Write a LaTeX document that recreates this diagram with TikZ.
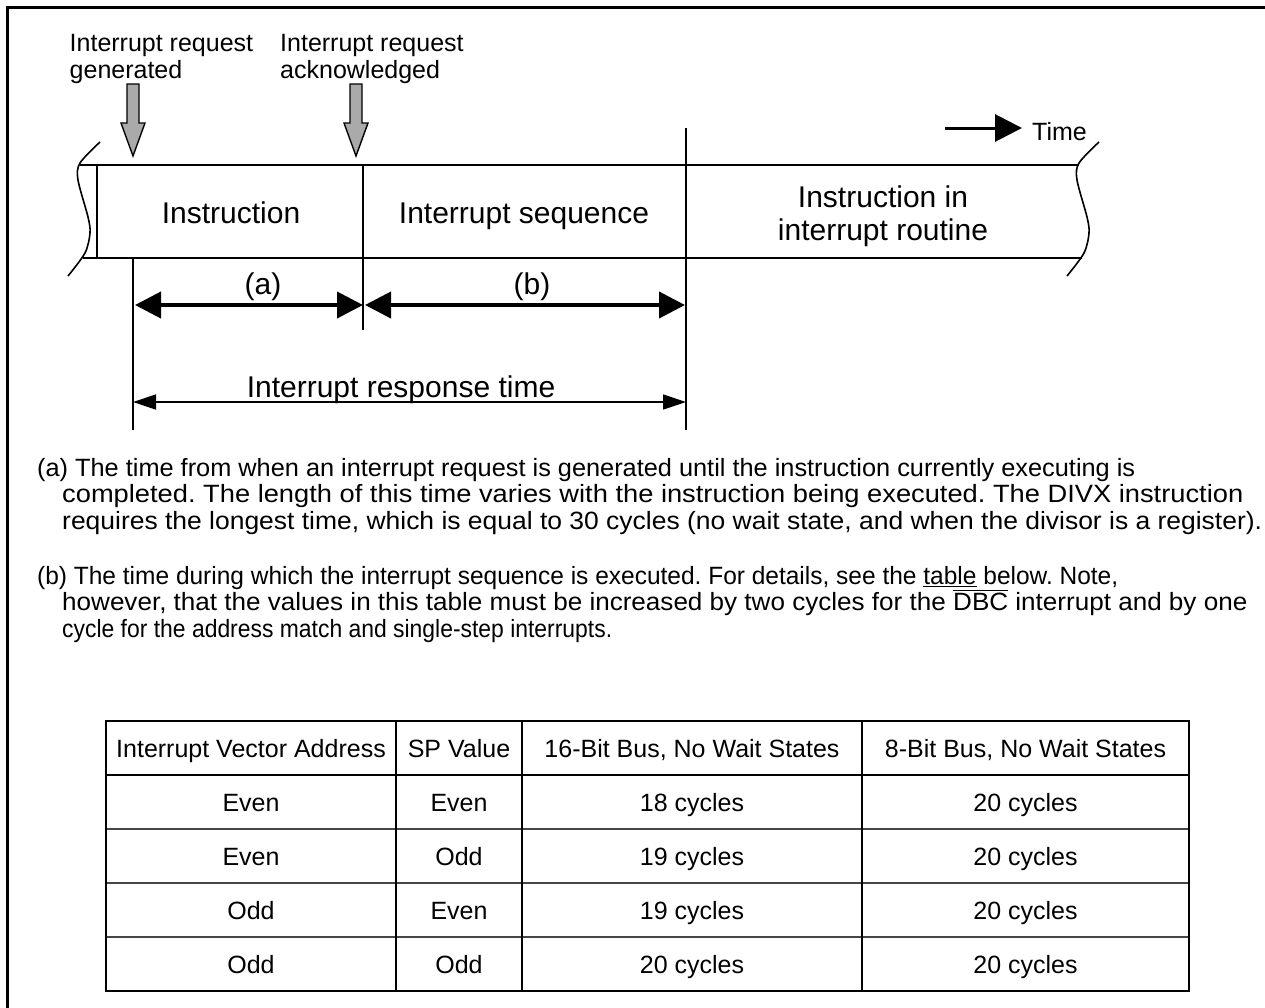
\documentclass[tikz,border=0pt]{standalone}
\usepackage{fontspec}
\setmainfont{Liberation Sans}
\usetikzlibrary{arrows.meta}
\frenchspacing

% rules for the underlined / overlined words in the notes
\newcommand{\undl}[1]{\vtop{\hbox{#1}\kern1.6pt\hrule height 1.3pt}}
\newcommand{\ovrl}[1]{\vbox{\hrule height 1.3pt\kern1.8pt\hbox{#1}}}
% one set line of the notes, brought to a given width
\newcommand{\noteline}[2]{\resizebox{#1pt}{\height}{#2}}

\definecolor{markgray}{RGB}{170,170,170}
\definecolor{rowline}{RGB}{70,70,70}

\tikzset{
  small/.style={font=\fontsize{25}{26.7}\selectfont, inner sep=0pt},
  big/.style={font=\fontsize{30}{33}\selectfont, inner sep=0pt},
  noteline/.style={small, anchor=base west},
  bandline/.style={line width=2.6pt},
  thinline/.style={line width=1.5pt},
  breakline/.style={line width=1.6pt},
  marker/.style={fill=markgray, draw=black, line width=1.4pt, line join=miter},
  spanarrow/.style={line width=4pt, {Triangle[length=26pt,width=26pt]}-{Triangle[length=26pt,width=26pt]}},
  totalarrow/.style={line width=1.5pt, {Triangle[length=23pt,width=15pt]}-{Triangle[length=23pt,width=15pt]}},
  tabouter/.style={line width=2.6pt},
  tabrow/.style={line width=1.5pt, draw=rowline},
  cell/.style={small, anchor=base},
}

\begin{document}
\begin{tikzpicture}[x=1pt,y=-1pt]
\useasboundingbox (0,0) rectangle (1265,1007);

% page frame (left and top edges)
\draw[line width=3pt, line join=miter] (7,1010) -- (7,7) -- (1268,7);

% ---------- event labels and their marker arrows ----------
\node[small, align=left, anchor=north west] (gen) at (69.5,34)
  {Interrupt request\\generated};
\node[small, align=left, anchor=north west] (ack) at (280,34)
  {Interrupt request\\acknowledged};

\coordinate (g1) at (133,84);
\coordinate (g2) at (356,84);
\foreach \g in {g1,g2}{
  \draw[marker] ([xshift=-6pt]\g) -- ([xshift=6pt]\g) -- ([xshift=6pt,yshift=-39pt]\g)
    -- ([xshift=12pt,yshift=-39pt]\g) -- ([yshift=-72pt]\g)
    -- ([xshift=-12pt,yshift=-39pt]\g) -- ([xshift=-6pt,yshift=-39pt]\g) -- cycle;
}

% ---------- time direction ----------
\node[small, anchor=base west] (time) at (1032,140) {Time};
\coordinate (timeS) at (945,128);
\coordinate (timeE) at (1022,128);
\draw[line width=3pt, -{Triangle[length=27pt,width=27pt]}] (timeS) -- (timeE);

% ---------- the time band ----------
\draw[bandline] (80,165) -- (1079,165);
\draw[bandline] (83,258) -- (1082,258);
% broken ends
\draw[breakline] plot[smooth] coordinates {(100,142) (80,163) (78,180) (88,217) (90,233) (85,253) (68,276)};
\draw[breakline] plot[smooth] coordinates {(1099,142) (1079,163) (1077,180) (1087,217) (1089,233) (1084,253) (1067,276)};
% segment boundaries
\draw[line width=2pt] (97,165) -- (97,258);
\coordinate (d1t) at (363,165);
\coordinate (d1b) at (363,330);
\coordinate (d2t) at (686,128);
\coordinate (d2b) at (686,430);
\coordinate (d0t) at (133,258);
\coordinate (d0b) at (133,430);
\draw[thinline] (d1t) -- (d1b);
\draw[thinline] (d2t) -- (d2b);
\draw[thinline] (d0t) -- (d0b);

\node[big, anchor=base] (instr) at (231,223) {Instruction};
\node[big, anchor=base] (seq) at (524,223) {Interrupt sequence};
\node[big, align=center, anchor=north] (routine) at (883,185.5)
  {Instruction in\\interrupt routine};

% ---------- spans ----------
\coordinate (aL) at (135,305);
\coordinate (aR) at (363,305);
\coordinate (bL) at (365,305);
\coordinate (bR) at (685,305);
\draw[spanarrow] (aL) -- (aR);
\draw[spanarrow] (bL) -- (bR);
\node[big, anchor=base] (alab) at (263,294) {(a)};
\node[big, anchor=base] (blab) at (532,294) {(b)};

\coordinate (rL) at (133,402);
\coordinate (rR) at (686,402);
\draw[totalarrow] (rL) -- (rR);
\node[big, anchor=base] (resp) at (401,397) {Interrupt response time};

% ---------- notes ----------
\node[noteline] (na1) at (37,476)
  {\noteline{1098}{(a) The time from when an interrupt request is generated until the instruction currently executing is}};
\node[noteline] (na2) at (62,502.7)
  {\noteline{1181}{completed. The length of this time varies with the instruction being executed. The DIVX instruction}};
\node[noteline] (na3) at (62,529.4)
  {\noteline{1200}{requires the longest time, which is equal to 30 cycles (no wait state, and when the divisor is a register).}};

\node[noteline] (nb1) at (37,584)
  {\noteline{1081}{(b) The time during which the interrupt sequence is executed. For details, see the \undl{table} below. Note,}};
\node[noteline] (nb2) at (62,610.7)
  {\noteline{1185}{however, that the values in this table must be increased by two cycles for the \ovrl{DBC} interrupt and by one}};
\node[noteline] (nb3) at (62,637.4)
  {\noteline{550}{cycle for the address match and single-step interrupts.}};

% ---------- table ----------
\draw[tabrow] (106,829) -- (1189,829);
\draw[tabrow] (106,883) -- (1189,883);
\draw[tabrow] (106,937) -- (1189,937);
\draw[line width=2pt] (106,775) -- (1189,775);
\draw[thinline] (396,721) -- (396,991);
\draw[line width=2.4pt] (522,721) -- (522,991);
\draw[thinline] (862,721) -- (862,991);
\draw[tabouter] (106,721) rectangle (1189,991);

\node[cell] (h1) at (251,757.5) {Interrupt Vector Address};
\node[cell] (h2) at (459,757.5) {SP Value};
\node[cell] (h3) at (692,757.5) {16-Bit Bus, No Wait States};
\node[cell] (h4) at (1025.5,757.5) {8-Bit Bus, No Wait States};

\node[cell] (r11) at (251,811.5) {Even};
\node[cell] (r12) at (459,811.5) {Even};
\node[cell] (r13) at (692,811.5) {18 cycles};
\node[cell] (r14) at (1025.5,811.5) {20 cycles};

\node[cell] (r21) at (251,865.5) {Even};
\node[cell] (r22) at (459,865.5) {Odd};
\node[cell] (r23) at (692,865.5) {19 cycles};
\node[cell] (r24) at (1025.5,865.5) {20 cycles};

\node[cell] (r31) at (251,919.5) {Odd};
\node[cell] (r32) at (459,919.5) {Even};
\node[cell] (r33) at (692,919.5) {19 cycles};
\node[cell] (r34) at (1025.5,919.5) {20 cycles};

\node[cell] (r41) at (251,973.5) {Odd};
\node[cell] (r42) at (459,973.5) {Odd};
\node[cell] (r43) at (692,973.5) {20 cycles};
\node[cell] (r44) at (1025.5,973.5) {20 cycles};
\end{tikzpicture}
\end{document}
